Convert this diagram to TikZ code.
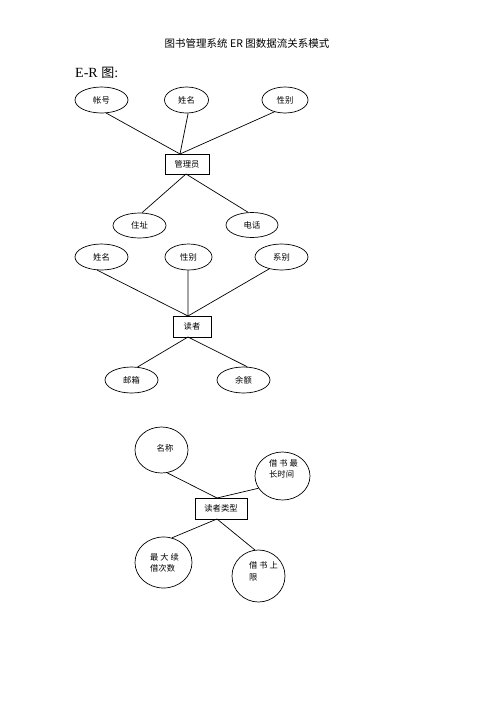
\documentclass[tikz,border=0pt]{standalone}
\usepackage{fontspec}
\setmainfont{Liberation Serif}
\newfontfamily\cjk{Noto Sans CJK SC}
\usetikzlibrary{shapes.geometric}
\tikzset{
  attr/.style={ellipse,draw,line width=0.7pt,inner sep=0pt,font=\cjk\fontsize{8.3}{11.5}\selectfont},
  ent/.style={rectangle,draw,line width=0.9pt,inner sep=0pt,font=\cjk\fontsize{8.3}{11.5}\selectfont},
  txt/.style={inner sep=0pt,align=left,font=\cjk\fontsize{8.3}{11.5}\selectfont},
  conn/.style={line width=0.7pt},
}
\begin{document}
\begin{tikzpicture}[x=1pt,y=-1pt]
\useasboundingbox[fill=white] (0,0) rectangle (496,702);
% title
\node[inner sep=0pt,font=\cjk\fontsize{10.5}{12}\selectfont] (title) at (247,43.5) {图书管理系统 ER 图数据流关系模式};
\node[inner sep=0pt,anchor=west,font=\fontsize{14}{16}\selectfont] (er) at (75,73) {E-R {\cjk\fontsize{13}{16}\selectfont 图}:};
% administrator
\node[attr,minimum width=53,minimum height=26] (zh) at (101.5,100) {帐号};
\node[attr,minimum width=44,minimum height=26] (xm) at (186.5,100) {姓名};
\node[attr,minimum width=46,minimum height=26] (xb) at (285,100) {性别};
\node[ent,minimum width=44,minimum height=20] (glr) at (187,164) {管理员};
\node[attr,minimum width=53,minimum height=25] (zz) at (139.5,225.5) {住址};
\node[attr,minimum width=52,minimum height=25] (dh) at (252,225) {电话};
\coordinate (g1) at (180,154);
\coordinate (g2) at (186,174);
\draw[conn] (zh.-70) -- (g1);
\draw[conn] (xm.-83) -- (g1);
\draw[conn] (xb.-132) -- (g1);
\draw[conn] (g2) -- (zz.79);
\draw[conn] (g2) -- (dh.107);
% reader
\node[attr,minimum width=53,minimum height=26] (r1) at (101.5,257) {姓名};
\node[attr,minimum width=47,minimum height=26] (r2) at (188.5,257) {性别};
\node[attr,minimum width=53,minimum height=26] (r3) at (281.5,257) {系别};
\node[ent,minimum width=38,minimum height=21] (dz) at (192,326.5) {读者};
\node[attr,minimum width=53,minimum height=26] (yx) at (131.5,380) {邮箱};
\node[attr,minimum width=53,minimum height=26] (ye) at (243.5,380) {余额};
\coordinate (d1) at (188,316);
\coordinate (d2) at (188,337);
\draw[conn] (r1.-108) -- (d1);
\draw[conn] (r2.-92) -- (d1);
\draw[conn] (r3.-136) -- (d1);
\draw[conn] (d2) -- (yx.65);
\draw[conn] (d2) -- (ye.74);
% reader type
\node[attr,minimum width=53,minimum height=46] (mc) at (161.5,450) {};
\node[txt] (mct) at (165,448) {名称};
\node[attr,minimum width=55,minimum height=48] (jc) at (282.5,476) {};
\node[txt] (jct) at (283.5,469) {借 书 最\\长时间};
\node[ent,minimum width=52,minimum height=21] (lx) at (221,508.5) {读者类型};
\node[attr,minimum width=57,minimum height=51] (zd) at (163.5,562.5) {};
\node[txt] (zdt) at (164.5,563) {最 大 续\\借次数};
\node[attr,minimum width=53,minimum height=52] (jx) at (258.5,576) {};
\node[txt] (jxt) at (263.5,571.5) {借 书 上\\限};
\coordinate (c1) at (217,498);
\coordinate (c2) at (217,519);
\draw[conn] (mc.-76) -- (c1);
\draw[conn] (jc.-153) -- (c1);
\draw[conn] (c2) -- (zd.71);
\draw[conn] (c2) -- (jx.98);
\end{tikzpicture}
\end{document}
